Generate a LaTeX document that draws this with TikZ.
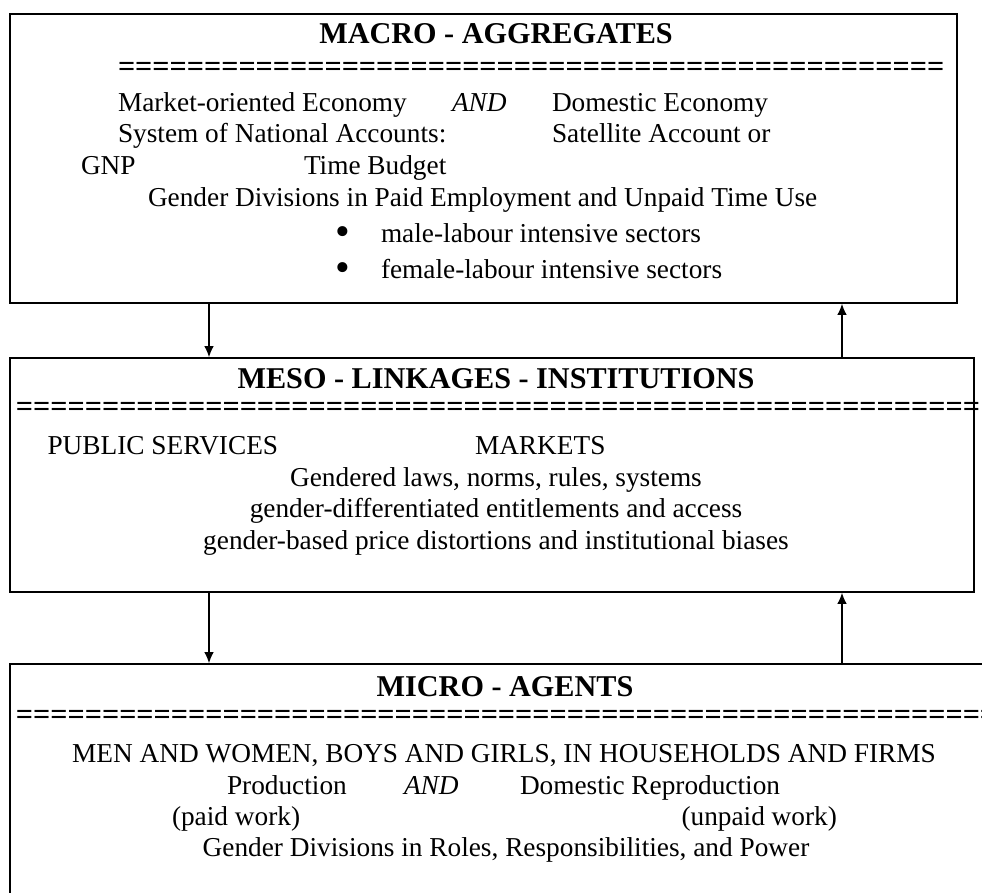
\documentclass[tikz,border=0pt]{standalone}
\usepackage{fontspec}
\setmainfont{Liberation Serif}
\usetikzlibrary{arrows.meta}
\tikzset{
  box/.style={draw, line width=2.4pt, inner sep=0pt, outer sep=0pt, anchor=north west},
  txt/.style={inner sep=0pt, outer sep=0pt, anchor=base west, font=\fontsize{27.3}{31.7}\selectfont},
  itxt/.style={txt, font=\fontsize{27.3}{31.7}\selectfont\itshape},
  ctxt/.style={txt, anchor=base},
  bul/.style={inner sep=0pt, outer sep=0pt, anchor=base, font=\fontsize{42}{42}\selectfont},
  ttl/.style={inner sep=0pt, outer sep=0pt, anchor=base, font=\fontsize{30.2}{34}\selectfont\bfseries},
  eqrow/.style={inner sep=0pt, outer sep=0pt, anchor=base west, font=\fontsize{30.2}{34}\selectfont\bfseries},
  link/.style={line width=1.3pt, -{Latex[length=11pt,width=9.5pt]}, shorten >=0.8pt},
}
\begin{document}
\begin{tikzpicture}[x=1pt,y=-1pt]
\useasboundingbox (0,0) rectangle (982,892);
\clip (0,0) rectangle (982,892);
% boxes
\node[box, line width=2pt, minimum width=947pt, minimum height=289pt] (macro) at (10,14) {};
\node[box, minimum width=964pt, minimum height=234pt] (meso) at (10,358) {};
\node[box, minimum width=990pt, minimum height=260pt] (micro) at (10,664) {};
% connector columns
\coordinate (L) at (209,0);
\coordinate (R) at (842,0);
\draw[link] (macro.south -| L) -- (meso.north -| L);
\draw[link] (meso.north -| R) -- (macro.south -| R);
\draw[link] (meso.south -| L) -- (micro.north -| L);
\draw[link] (micro.north -| R) -- (meso.south -| R);
% macro texts
\node[ttl] (t0) at (496,43) {MACRO - AGGREGATES};
\node[eqrow] (t0e) at (118,76) {================================================};
\node[txt] (a1) at (118,111) {Market-oriented Economy};
\node[itxt] (a2) at (452,111) {AND};
\node[txt] (a3) at (552,111) {Domestic Economy};
\node[txt] (b1) at (118,142) {System of National Accounts:};
\node[txt] (b2) at (552,142) {Satellite Account or};
\node[txt] (c1) at (81,174) {GNP};
\node[txt] (c2) at (304,174) {Time Budget};
\node[txt] (d1) at (148,206) {Gender Divisions in Paid Employment and Unpaid Time Use};
\node[bul] (e0) at (343,245) {•};
\node[txt] (e1) at (381,242) {male-labour intensive sectors};
\node[bul] (f0) at (343,281) {•};
\node[txt] (f1) at (381,278) {female-labour intensive sectors};
% meso texts
\node[ttl] (m0) at (496,388) {MESO - LINKAGES - INSTITUTIONS};
\node[eqrow] (m0e) at (16,416.5) {========================================================};
\node[txt] (m1) at (47.5,454) {PUBLIC SERVICES};
\node[txt] (m2) at (475,454) {MARKETS};
\node[ctxt] (m3) at (496,486) {Gendered laws, norms, rules, systems};
\node[ctxt] (m4) at (496,517) {gender-differentiated entitlements and access};
\node[ctxt] (m5) at (496,549) {gender-based price distortions and institutional biases};
% micro texts
\node[ttl] (n0) at (505,696) {MICRO - AGENTS};
\node[eqrow] (n0e) at (16,724.5) {==========================================================};
\node[ctxt] (n1) at (504,762) {MEN AND WOMEN, BOYS AND GIRLS, IN HOUSEHOLDS AND FIRMS};
\node[txt] (n2) at (227,794) {Production};
\node[itxt] (n3) at (404,794) {AND};
\node[txt] (n4) at (520,794) {Domestic Reproduction};
\node[txt] (n5) at (172,825) {(paid work)};
\node[txt] (n6) at (681.5,825) {(unpaid work)};
\node[ctxt] (n7) at (506,856) {Gender Divisions in Roles, Responsibilities, and Power};
\end{tikzpicture}
\end{document}
